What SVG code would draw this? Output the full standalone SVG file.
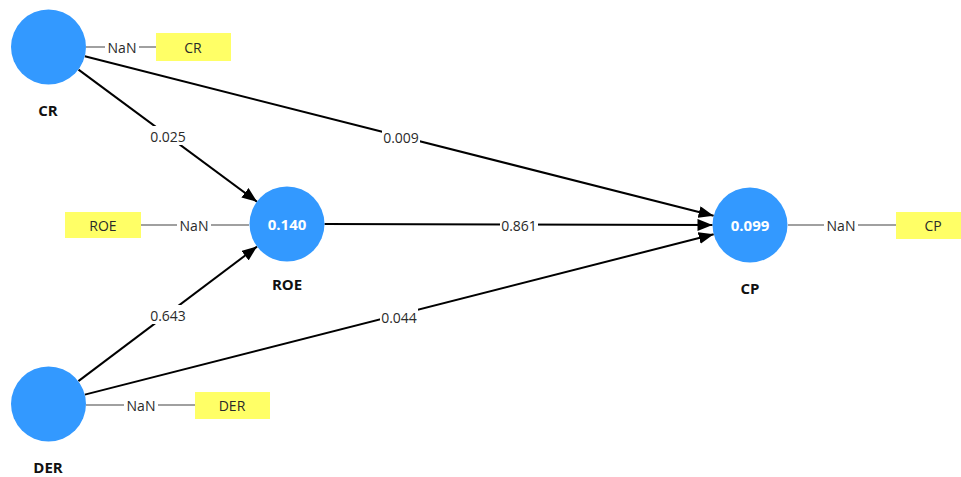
<svg xmlns="http://www.w3.org/2000/svg" width="961" height="477" viewBox="0 0 961 477">
<defs>
<marker id="arr" markerUnits="userSpaceOnUse" markerWidth="16" markerHeight="12" refX="15" refY="6" orient="auto">
<path d="M0,0 L15,6 L0,12 z" fill="#000"/>
</marker>
<style>
.node{fill:#3399ff}
.ind{fill:#ffff66}
.edge{stroke:#000;stroke-width:2;fill:none;marker-end:url(#arr)}
.ol{stroke:#808080;stroke-width:1.5;fill:none}
.lbl{font-family:"Open Sans","Noto Sans",sans-serif;font-size:14px;fill:#2a2a2a;text-anchor:middle;dominant-baseline:central}
.name{font-family:"Open Sans","Noto Sans",sans-serif;font-size:15px;font-weight:bold;fill:#111;text-anchor:middle;dominant-baseline:central}
.val{font-family:"Open Sans","Noto Sans",sans-serif;font-size:15px;font-weight:bold;fill:#fff;text-anchor:middle;dominant-baseline:central}
.bg{fill:#fff}
</style>
</defs>
<rect width="961" height="477" fill="#fff"/>
<g id="connectors">
<line class="edge" x1="78.5" y1="69.6" x2="257" y2="201.7"/>
<line class="edge" x1="84.8" y1="56.3" x2="713.6" y2="215.8"/>
<line class="edge" x1="324.5" y1="224.1" x2="712.5" y2="225"/>
<line class="edge" x1="78.4" y1="381.1" x2="257" y2="246.6"/>
<line class="edge" x1="84.8" y1="394.6" x2="713.7" y2="234.3"/>
<rect class="bg" x="149" y="126" width="38" height="19"/>
<text class="lbl" x="168" y="136">0.025</text>
<rect class="bg" x="382" y="127" width="38" height="19"/>
<text class="lbl" x="401" y="137">0.009</text>
<rect class="bg" x="500" y="216" width="38" height="18"/>
<text class="lbl" x="519" y="225">0.861</text>
<rect class="bg" x="149" y="305" width="38" height="19"/>
<text class="lbl" x="168" y="315">0.643</text>
<rect class="bg" x="380" y="307" width="38" height="19"/>
<text class="lbl" x="399" y="317">0.044</text>
<line class="ol" x1="86" y1="47" x2="156" y2="47"/>
<rect class="bg" x="105" y="39" width="34" height="17"/>
<text class="lbl" x="122" y="47">NaN</text>
<line class="ol" x1="141" y1="225" x2="249" y2="225"/>
<rect class="bg" x="177" y="217" width="34" height="17"/>
<text class="lbl" x="194" y="225">NaN</text>
<line class="ol" x1="86" y1="405" x2="195" y2="405"/>
<rect class="bg" x="124" y="397" width="34" height="17"/>
<text class="lbl" x="141" y="405">NaN</text>
<line class="ol" x1="788" y1="225" x2="896" y2="225"/>
<rect class="bg" x="824" y="217" width="34" height="17"/>
<text class="lbl" x="841" y="225">NaN</text>
</g>
<g id="CR">
<circle class="node" cx="48.5" cy="47" r="37.5"/>
<text class="name" x="48" y="110">CR</text>
</g>
<g id="CR-ind">
<rect class="ind" x="156" y="33" width="75" height="28"/>
<text class="lbl" x="193" y="47">CR</text>
</g>
<g id="ROE">
<circle class="node" cx="287" cy="224" r="37.5"/>
<text class="val" x="287" y="224">0.140</text>
<text class="name" x="287" y="284">ROE</text>
</g>
<g id="ROE-ind">
<rect class="ind" x="65" y="212" width="76" height="26"/>
<text class="lbl" x="103" y="225">ROE</text>
</g>
<g id="DER">
<circle class="node" cx="48.5" cy="404" r="37.5"/>
<text class="name" x="48" y="467">DER</text>
</g>
<g id="DER-ind">
<rect class="ind" x="195" y="392" width="75" height="27"/>
<text class="lbl" x="232" y="405">DER</text>
</g>
<g id="CP">
<circle class="node" cx="750" cy="225" r="37.5"/>
<text class="val" x="750" y="225">0.099</text>
<text class="name" x="750" y="288">CP</text>
</g>
<g id="CP-ind">
<rect class="ind" x="896" y="212" width="65" height="27"/>
<text class="lbl" x="933" y="225">CP</text>
</g>
</svg>
